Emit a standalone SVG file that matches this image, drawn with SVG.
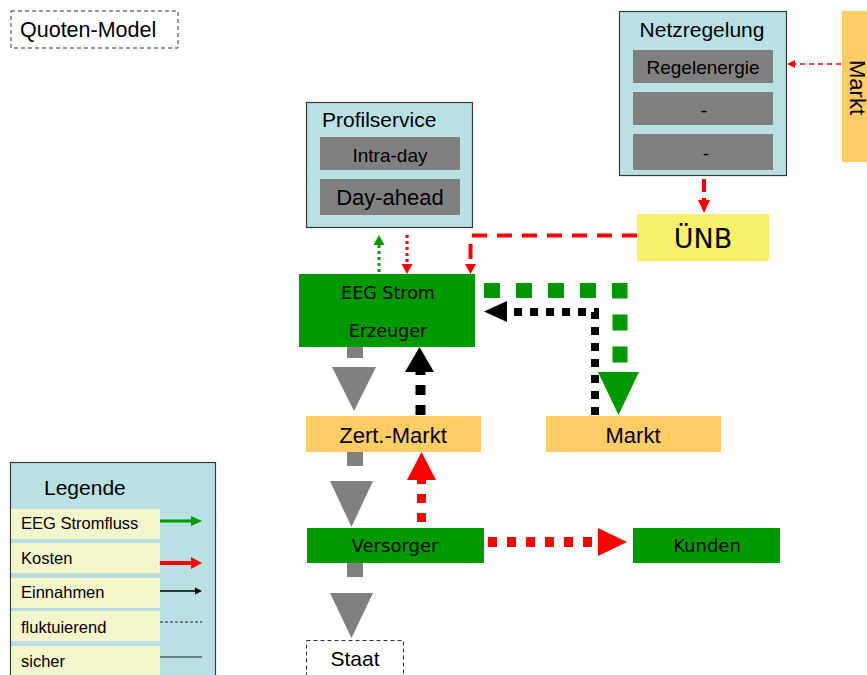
<svg xmlns="http://www.w3.org/2000/svg" width="867" height="675" viewBox="0 0 867 675">
<defs>
<style>
.sans{font-family:"Liberation Sans",Arial,sans-serif;fill:#000}
.tah{font-family:"DejaVu Sans",Verdana,sans-serif;fill:#000}
.panel{fill:#b9e0e3;stroke:#3a3a3a;stroke-width:1.2}
.sub{fill:#808080}
.orange{fill:#ffcc66}
.green{fill:#009900}
.leg{fill:#f5f5cc}
.dashbox{fill:#fff;stroke:#333;stroke-width:1;stroke-dasharray:4 3}
</style>
</defs>
<rect width="867" height="675" fill="#fff"/>

<!-- title -->
<g id="title">
<rect class="dashbox" x="11" y="11" width="167" height="37"/>
<text class="sans" x="20" y="37" font-size="21.5">Quoten-Model</text>
</g>

<!-- grid control panel -->
<g id="netzregelung">
<rect class="panel" x="619.5" y="11.5" width="167" height="164"/>
<text class="sans" x="702" y="37" font-size="21" text-anchor="middle">Netzregelung</text>
<rect class="sub" x="633" y="50" width="140" height="33"/>
<text class="sans" x="703" y="74" font-size="19" text-anchor="middle">Regelenergie</text>
<rect class="sub" x="633" y="92" width="140" height="33"/>
<text class="sans" x="704" y="117" font-size="19" text-anchor="middle">-</text>
<rect class="sub" x="633" y="134" width="140" height="36"/>
<text class="sans" x="706" y="160" font-size="19" text-anchor="middle">-</text>
</g>

<g id="markt-top">
<rect class="orange" x="842" y="11" width="30" height="151"/>
<text class="sans" font-size="22" transform="translate(850,60) rotate(90)">Markt</text>
</g>

<g id="uenb">
<rect x="637" y="214" width="132" height="47" fill="#f5f26a"/>
<text class="tah" x="703" y="248" font-size="27" text-anchor="middle">ÜNB</text>
</g>

<g id="profilservice">
<rect class="panel" x="306.5" y="102.5" width="166" height="125"/>
<text class="sans" x="322" y="127" font-size="21">Profilservice</text>
<rect class="sub" x="320" y="137" width="140" height="33"/>
<text class="sans" x="390" y="162" font-size="19" text-anchor="middle">Intra-day</text>
<rect class="sub" x="320" y="179" width="140" height="36"/>
<text class="sans" x="390" y="205" font-size="22" text-anchor="middle">Day-ahead</text>
</g>

<g id="erzeuger">
<rect class="green" x="299" y="274" width="176" height="73"/>
<text class="tah" x="388" y="299" font-size="17.5" text-anchor="middle">EEG Strom</text>
<text class="tah" x="388" y="337" font-size="17.5" text-anchor="middle">Erzeuger</text>
</g>

<g id="zert-markt">
<rect class="orange" x="306" y="416" width="175" height="36"/>
<text class="sans" x="393" y="443" font-size="22" text-anchor="middle">Zert.-Markt</text>
</g>

<g id="markt">
<rect class="orange" x="546" y="416" width="175" height="36"/>
<text class="sans" x="633" y="443" font-size="22" text-anchor="middle">Markt</text>
</g>

<g id="versorger">
<rect class="green" x="307" y="528" width="177" height="35"/>
<text class="tah" x="395" y="552" font-size="18" text-anchor="middle">Versorger</text>
</g>

<g id="kunden">
<rect class="green" x="633" y="528" width="147" height="35"/>
<text class="tah" x="707" y="552" font-size="18" text-anchor="middle">Kunden</text>
</g>

<g id="staat">
<rect class="dashbox" x="306.5" y="640.5" width="97" height="40"/>
<text class="sans" x="355" y="666" font-size="21" text-anchor="middle">Staat</text>
</g>

<!-- legend -->
<g id="legende">
<rect class="panel" x="10.5" y="462.5" width="205" height="220"/>
<text class="sans" x="44" y="495" font-size="21">Legende</text>
<rect class="leg" x="11" y="509" width="149" height="30"/>
<rect class="leg" x="11" y="543" width="149" height="30"/>
<rect class="leg" x="11" y="578" width="149" height="30"/>
<rect class="leg" x="11" y="611" width="149" height="30"/>
<rect class="leg" x="11" y="646" width="149" height="30"/>
<text class="sans" x="21" y="529" font-size="16.5">EEG Stromfluss</text>
<text class="sans" x="21" y="564" font-size="16.5">Kosten</text>
<text class="sans" x="21" y="598" font-size="16.5">Einnahmen</text>
<text class="sans" x="21" y="633" font-size="16.5">fluktuierend</text>
<text class="sans" x="21" y="667" font-size="16.5">sicher</text>
<line x1="160" y1="521" x2="192" y2="521" stroke="#009900" stroke-width="3"/>
<path d="M191,516 L202,521 L191,526 z" fill="#009900"/>
<line x1="160" y1="563" x2="192" y2="563" stroke="#ff0000" stroke-width="4"/>
<path d="M191,557 L202,563 L191,569 z" fill="#ff0000"/>
<line x1="160" y1="591" x2="196" y2="591" stroke="#000" stroke-width="1.3"/>
<path d="M195,587.5 L202,591 L195,594.5 z" fill="#000"/>
<line x1="160" y1="622" x2="202" y2="622" stroke="#222" stroke-width="1" stroke-dasharray="3 2"/>
<line x1="160" y1="657" x2="202" y2="657" stroke="#222" stroke-width="1.2"/>
</g>

<!-- connectors -->
<g id="connectors">
<!-- Markt -> Netzregelung -->
<line x1="841" y1="64" x2="793" y2="64" stroke="#ff0000" stroke-width="1.6" stroke-dasharray="5 4"/>
<path d="M787,64 L795,60 L795,68 z" fill="#ff0000"/>
<!-- Netzregelung -> ÜNB -->
<line x1="704" y1="179" x2="704" y2="200" stroke="#ff0000" stroke-width="4" stroke-dasharray="13 6"/>
<path d="M698,200 L710,200 L704,213 z" fill="#ff0000"/>
<!-- ÜNB -> Erzeuger -->
<path d="M637,235.5 H470.5 V265" fill="none" stroke="#ff0000" stroke-width="4" stroke-dasharray="15 10"/>
<path d="M465,264 L476,264 L470.5,274 z" fill="#ff0000"/>
<!-- Erzeuger -> Profilservice -->
<line x1="379" y1="272" x2="379" y2="245" stroke="#009900" stroke-width="3" stroke-dasharray="3 3"/>
<path d="M373.5,245 L384.5,245 L379,235 z" fill="#009900"/>
<!-- Profilservice -> Erzeuger -->
<line x1="407" y1="235" x2="407" y2="265" stroke="#ff0000" stroke-width="3" stroke-dasharray="3 3"/>
<path d="M401.5,264 L412.5,264 L407,274 z" fill="#ff0000"/>
<!-- Erzeuger -> Markt (green) -->
<path d="M484,290.5 H620 V366" fill="none" stroke="#009900" stroke-width="15" stroke-dasharray="16 16"/>
<path d="M598,372 L639,372 L618.5,415 z" fill="#009900"/>
<!-- Markt -> Erzeuger (black) -->
<path d="M595,415 V312 H507" fill="none" stroke="#000" stroke-width="8" stroke-dasharray="8 8"/>
<path d="M507,301 L507,322 L484,311.5 z" fill="#000"/>
<!-- Erzeuger -> Zert.-Markt (grey) -->
<line x1="355" y1="347" x2="355" y2="358" stroke="#808080" stroke-width="16"/>
<path d="M332,367 L376,367 L354,411 z" fill="#808080"/>
<!-- Zert.-Markt -> Erzeuger (black) -->
<line x1="420.5" y1="415" x2="420.5" y2="372" stroke="#000" stroke-width="10" stroke-dasharray="10 10"/>
<path d="M405,372 L434,372 L419.5,347 z" fill="#000"/>
<!-- Zert.-Markt -> Versorger (grey) -->
<line x1="355" y1="452" x2="355" y2="466" stroke="#808080" stroke-width="16"/>
<path d="M330,481 L373,481 L351.5,527 z" fill="#808080"/>
<!-- Versorger -> Zert.-Markt (red) -->
<line x1="421.5" y1="522" x2="421.5" y2="480" stroke="#ff0000" stroke-width="9" stroke-dasharray="9 10"/>
<path d="M407,480 L436,480 L421.5,452 z" fill="#ff0000"/>
<!-- Versorger -> Kunden (red) -->
<line x1="488" y1="542" x2="598" y2="542" stroke="#ff0000" stroke-width="10" stroke-dasharray="9 10"/>
<path d="M598,528 L598,556 L627,542 z" fill="#ff0000"/>
<!-- Versorger -> Staat (grey) -->
<line x1="355" y1="563" x2="355" y2="577" stroke="#808080" stroke-width="16"/>
<path d="M330,593 L373,593 L351.5,638 z" fill="#808080"/>
</g>
</svg>
